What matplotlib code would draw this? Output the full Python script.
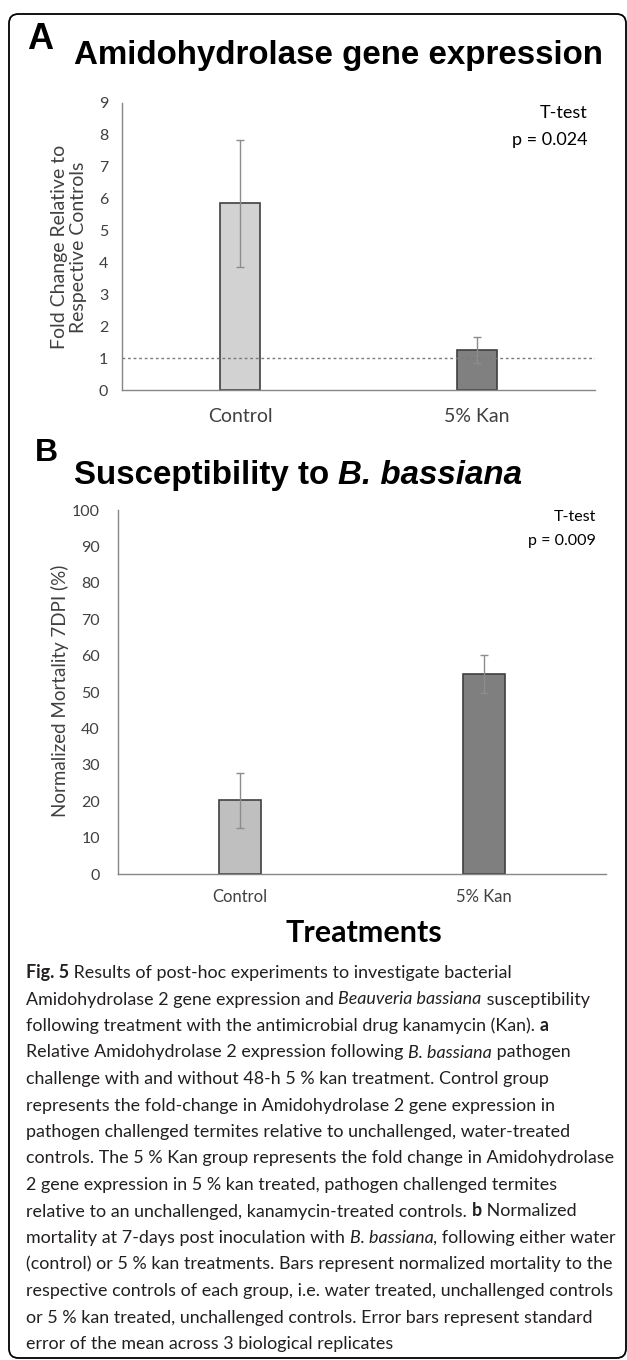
import numpy as np
import matplotlib.pyplot as plt
from matplotlib.patches import FancyBboxPatch

# chart values
groups = ['Control', '5% Kan']
fold_change = [5.85, 1.25]
fold_err = [2.0, 0.41]
mortality = [20.2, 55.0]
mortality_err = [7.6, 5.2]
p_fold = 'p = 0.024'
p_mort = 'p = 0.009'

W, H = 627, 1360
fig = plt.figure(figsize=(W / 100, H / 100), dpi=100)
renderer = fig.canvas.get_renderer()

chart_font = 'Lato'
title_font = 'Liberation Sans'
cap_font = 'Lato'
tick_col = '#404040'


def fx(x):
    return x / W


def fy(y):
    return 1 - y / H


def axes_px(left, top, right, bottom):
    return fig.add_axes([fx(left), fy(bottom), (right - left) / W, (bottom - top) / H])


def seg_width(s, size, family, style):
    # width of a text piece, trailing spaces included
    kw = dict(fontsize=size, family=family,
              fontweight='bold' if 'b' in style else 'normal',
              fontstyle='italic' if 'i' in style else 'normal')
    t1 = fig.text(0, 0, s + '|', **kw)
    t2 = fig.text(0, 0, '|', **kw)
    w = t1.get_window_extent(renderer).width - t2.get_window_extent(renderer).width
    t1.remove()
    t2.remove()
    return w


def draw_segs(x, y, segs, size, family, color='black'):
    for s, style in segs:
        fig.text(fx(x), fy(y), s, fontsize=size, family=family, va='baseline', color=color,
                 fontweight='bold' if 'b' in style else 'normal',
                 fontstyle='italic' if 'i' in style else 'normal')
        x += seg_width(s, size, family, style)


def fit_size(segs, width, family, base=20):
    total = sum(seg_width(s, base, family, st) for s, st in segs)
    return base * width / total


def style_axes(ax):
    for side in ['top', 'right']:
        ax.spines[side].set_visible(False)
    for side in ['left', 'bottom']:
        ax.spines[side].set_color('#868686')
        ax.spines[side].set_linewidth(1.0)
    ax.tick_params(length=0, colors=tick_col)
    for lab in ax.get_xticklabels() + ax.get_yticklabels():
        lab.set_family(chart_font)


# outer rounded frame
frame = FancyBboxPatch((fx(9), fy(1358)), fx(617), (1358 - 14) / H,
                       boxstyle='round,pad=0,rounding_size=0.015',
                       transform=fig.transFigure, fill=False, ec='black', lw=1.3,
                       mutation_aspect=W / H)
fig.patches.append(frame)

# ---- Panel A ----
fig.text(fx(27), fy(49), 'A', fontsize=fit_size([('A', 'b')], 26, title_font),
         family=title_font, fontweight='bold', va='baseline')
segA = [('Amidohydrolase gene expression', 'b')]
draw_segs(74, 64, segA, fit_size(segA, 530, title_font), title_font)

axA = axes_px(122, 103, 595, 390)
x = np.arange(len(groups))
axA.bar(x, fold_change, width=0.17, color=['#d2d2d2', '#808080'],
        edgecolor='#404040', linewidth=1.2, zorder=2)
axA.errorbar(x, fold_change, yerr=fold_err, fmt='none', ecolor='#8c8c8c',
             elinewidth=1.0, capsize=3, capthick=1.0, zorder=3)
axA.axhline(1, color='#7a7a7a', linestyle=(0, (2, 2)), linewidth=1.0, zorder=4)
axA.set_xlim(-0.5, 1.5)
axA.set_ylim(0, 9)
axA.set_yticks(range(0, 10))
axA.set_xticks(x)
axA.set_xticklabels(groups, fontsize=14)
axA.tick_params(axis='y', labelsize=11.5, pad=10)
axA.tick_params(axis='x', pad=13)
style_axes(axA)
axA.text(0.985, 0.965, 'T-test', transform=axA.transAxes, ha='right', va='center',
         fontsize=13, family=chart_font, color='black')
axA.text(0.985, 0.87, p_fold, transform=axA.transAxes, ha='right', va='center',
         fontsize=13, family=chart_font, color='black')
fig.text(fx(69), fy(247), 'Fold Change Relative to\nRespective Controls', rotation=90,
         ha='center', va='center', multialignment='center', fontsize=14,
         family=chart_font, color=tick_col, linespacing=1.2)

# ---- Panel B ----
fig.text(fx(35), fy(461), 'B', fontsize=fit_size([('B', 'b')], 23, title_font),
         family=title_font, fontweight='bold', va='baseline')
segB = [('Susceptibility to ', 'b'), ('B. bassiana', 'bi')]
draw_segs(74, 484, segB, fit_size(segB, 448, title_font), title_font)

axB = axes_px(118, 510, 606, 874)
axB.bar(x, mortality, width=0.17, color=['#bfbfbf', '#7f7f7f'],
        edgecolor='#404040', linewidth=1.2, zorder=2)
axB.errorbar(x, mortality, yerr=mortality_err, fmt='none', ecolor='#8c8c8c',
             elinewidth=1.0, capsize=3, capthick=1.0, zorder=3)
axB.set_xlim(-0.5, 1.5)
axB.set_ylim(0, 100)
axB.set_yticks(range(0, 101, 10))
axB.set_xticks(x)
axB.set_xticklabels(groups, fontsize=12)
axB.tick_params(axis='y', labelsize=11.5, pad=13)
axB.tick_params(axis='x', pad=11)
style_axes(axB)
axB.text(0.98, 0.98, 'T-test', transform=axB.transAxes, ha='right', va='center',
         fontsize=11.5, family=chart_font, color='black')
axB.text(0.98, 0.915, p_mort, transform=axB.transAxes, ha='right', va='center',
         fontsize=11.5, family=chart_font, color='black')
fig.text(fx(60), fy(691), 'Normalized Mortality 7DPI (%)', rotation=90,
         ha='center', va='center', fontsize=13.5, family=chart_font, color=tick_col)
fig.text(fx(364), fy(933), 'Treatments', ha='center', va='center', fontsize=22,
         family=chart_font, fontweight='bold', color='black')

# ---- caption ----
caption = [
    [('Fig. 5', 'b'), (' Results of post-hoc experiments to investigate bacterial', '')],
    [('Amidohydrolase 2 gene expression and ', ''), ('Beauveria bassiana', 'i'), (' susceptibility', '')],
    [('following treatment with the antimicrobial drug kanamycin (Kan). ', ''), ('a', 'b')],
    [('Relative Amidohydrolase 2 expression following ', ''), ('B. bassiana', 'i'), (' pathogen', '')],
    [('challenge with and without 48-h 5 % kan treatment. Control group', '')],
    [('represents the fold-change in Amidohydrolase 2 gene expression in', '')],
    [('pathogen challenged termites relative to unchallenged, water-treated', '')],
    [('controls. The 5 % Kan group represents the fold change in Amidohydrolase', '')],
    [('2 gene expression in 5 % kan treated, pathogen challenged termites', '')],
    [('relative to an unchallenged, kanamycin-treated controls. ', ''), ('b', 'b'), (' Normalized', '')],
    [('mortality at 7-days post inoculation with ', ''), ('B. bassiana', 'i'), (', following either water', '')],
    [('(control) or 5 % kan treatments. Bars represent normalized mortality to the', '')],
    [('respective controls of each group, i.e. water treated, unchallenged controls', '')],
    [('or 5 % kan treated, unchallenged controls. Error bars represent standard', '')],
    [('error of the mean across 3 biological replicates', '')],
]
cap_size = fit_size(caption[7], 590, cap_font)
for i, line in enumerate(caption):
    draw_segs(26, 978 + i * 26.5, line, cap_size, cap_font, color='#231f20')

fig.savefig('out.png', dpi=100)
